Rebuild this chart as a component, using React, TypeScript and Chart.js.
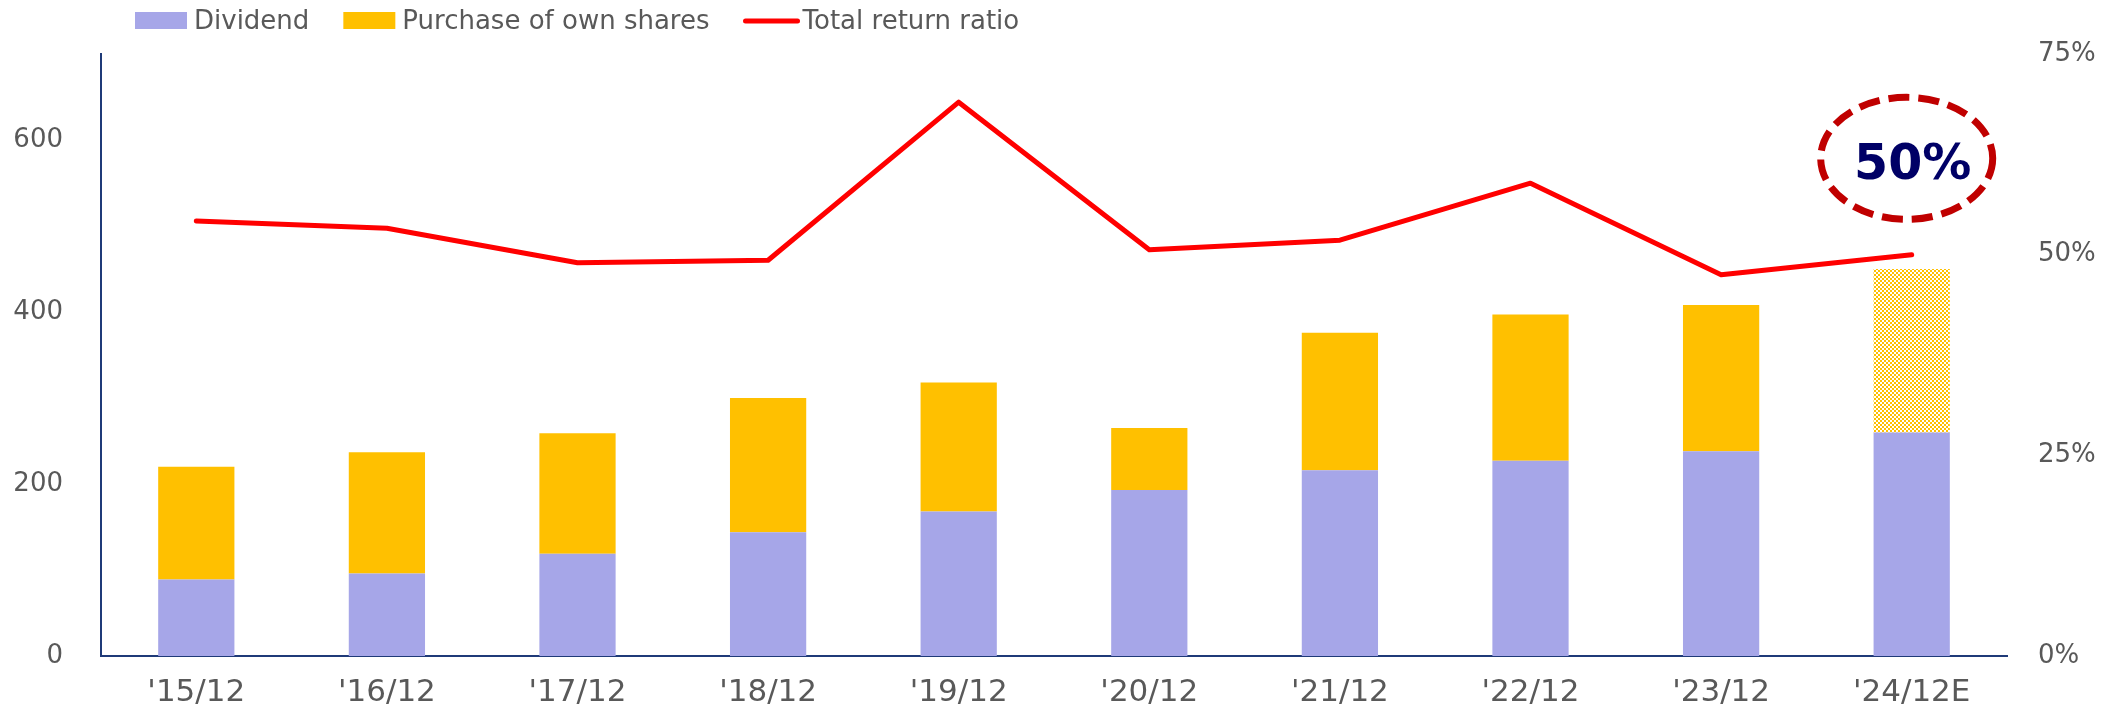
import React, { useEffect, useRef } from 'react';
import { Chart, registerables } from 'chart.js';

Chart.register(...registerables);

const categories = ["'15/12", "'16/12", "'17/12", "'18/12", "'19/12", "'20/12", "'21/12", "'22/12", "'23/12", "'24/12E"];
const dividend = [89, 96, 119, 144, 168, 193, 216, 227, 238, 260];
const buyback = [131, 141, 140, 156, 150, 72, 160, 170, 170, 190];
const returnRatio = [54.2, 53.3, 49.0, 49.3, 69.0, 50.6, 51.8, 58.9, 47.5, 50.0];
const highlightLabel = '50%';

const DIV_COLOR = '#A6A6E8';
const BUY_COLOR = '#FFC000';
const LINE_COLOR = '#FF0000';
const AXIS_COLOR = '#1F3A78';
const TEXT_COLOR = '#595959';
const FONT = '"DejaVu Sans", Verdana, sans-serif';

function makePattern(): CanvasPattern | string {
  const c = document.createElement('canvas');
  c.width = 4;
  c.height = 4;
  const g = c.getContext('2d');
  if (!g) return BUY_COLOR;
  g.fillStyle = '#FFFFFF';
  g.fillRect(0, 0, 4, 4);
  g.fillStyle = BUY_COLOR;
  g.fillRect(0, 0, 2, 2);
  g.fillRect(2, 2, 2, 2);
  const p = g.createPattern(c, 'repeat');
  return p || BUY_COLOR;
}

const legendPlugin = {
  id: 'customLegend',
  afterDraw(chart: any) {
    const ctx = chart.ctx;
    ctx.save();
    ctx.font = `26px ${FONT}`;
    ctx.textBaseline = 'middle';
    ctx.fillStyle = TEXT_COLOR;
    const y = 21;
    let x = 135;
    const items = [
      { type: 'box', color: DIV_COLOR, text: chart.data.datasets[1].label },
      { type: 'box', color: BUY_COLOR, text: chart.data.datasets[2].label },
      { type: 'line', color: LINE_COLOR, text: chart.data.datasets[0].label },
    ];
    items.forEach((it) => {
      if (it.type === 'box') {
        ctx.fillStyle = it.color;
        ctx.fillRect(x, 12, 52, 17);
      } else {
        ctx.strokeStyle = it.color;
        ctx.lineWidth = 5;
        ctx.lineCap = 'round';
        ctx.beginPath();
        ctx.moveTo(x + 2, y);
        ctx.lineTo(x + 54, y);
        ctx.stroke();
      }
      x += 52 + 7;
      ctx.fillStyle = TEXT_COLOR;
      ctx.fillText(it.text, x, y + 1);
      x += ctx.measureText(it.text).width + 34;
    });
    ctx.restore();
  },
};

const highlightPlugin = {
  id: 'highlight',
  afterDatasetsDraw(chart: any) {
    const ctx = chart.ctx;
    const xs = chart.scales.x;
    const ys = chart.scales.y1;
    const cx = xs.getPixelForValue(categories.length - 1) - 5;
    const cy = ys.getPixelForValue(62);
    ctx.save();
    ctx.strokeStyle = '#C00000';
    ctx.lineWidth = 7;
    ctx.setLineDash([21, 9]);
    ctx.beginPath();
    ctx.ellipse(cx, cy, 86, 61, 0, 0, Math.PI * 2);
    ctx.stroke();
    ctx.setLineDash([]);
    ctx.fillStyle = '#000066';
    ctx.font = `bold 49px ${FONT}`;
    ctx.textAlign = 'center';
    ctx.textBaseline = 'middle';
    ctx.fillText(highlightLabel, cx + 6, cy + 8);
    ctx.restore();
  },
};

export default function App() {
  const ref = useRef<HTMLCanvasElement | null>(null);

  useEffect(() => {
    document.body.style.margin = '0';
    if (!ref.current) return;
    const pattern = makePattern();
    const buyColors = buyback.map((_, i) => (i === buyback.length - 1 ? pattern : BUY_COLOR));
    const chart = new Chart(ref.current, {
      type: 'bar',
      data: {
        labels: categories,
        datasets: [
          {
            type: 'line',
            label: 'Total return ratio',
            data: returnRatio,
            yAxisID: 'y1',
            borderColor: LINE_COLOR,
            backgroundColor: LINE_COLOR,
            borderWidth: 5,
            pointRadius: 0,
            tension: 0,
            borderCapStyle: 'round',
            borderJoinStyle: 'round',
            order: 0,
          } as any,
          {
            type: 'bar',
            label: 'Dividend',
            data: dividend,
            yAxisID: 'y',
            backgroundColor: DIV_COLOR,
            categoryPercentage: 1,
            barPercentage: 0.4,
            order: 1,
          },
          {
            type: 'bar',
            label: 'Purchase of own shares',
            data: buyback,
            yAxisID: 'y',
            backgroundColor: buyColors as any,
            categoryPercentage: 1,
            barPercentage: 0.4,
            order: 1,
          },
        ],
      },
      options: {
        animation: false,
        responsive: true,
        maintainAspectRatio: false,
        layout: { padding: { top: 54, left: 0, right: 0, bottom: 0 } },
        plugins: {
          legend: { display: false },
          tooltip: { enabled: false },
        },
        scales: {
          x: {
            stacked: true,
            offset: true,
            grid: { display: false, drawTicks: false },
            border: { display: true, color: AXIS_COLOR, width: 2 },
            ticks: {
              color: TEXT_COLOR,
              font: { family: FONT, size: 31 },
              padding: 18,
              maxRotation: 0,
              autoSkip: false,
            },
            afterFit(scale: any) {
              scale.height = 56;
            },
          },
          y: {
            stacked: true,
            position: 'left',
            min: 0,
            max: 700,
            grid: { display: false, drawTicks: false },
            border: { display: true, color: AXIS_COLOR, width: 2 },
            ticks: {
              stepSize: 200,
              color: TEXT_COLOR,
              font: { family: FONT, size: 26 },
              padding: 38,
              callback: (v: any) => (Number(v) % 200 === 0 ? String(v) : ''),
            },
            afterFit(scale: any) {
              scale.width = 101;
            },
          },
          y1: {
            position: 'right',
            min: 0,
            max: 75,
            grid: { display: false, drawTicks: false },
            border: { display: false },
            ticks: {
              stepSize: 25,
              color: TEXT_COLOR,
              font: { family: FONT, size: 26 },
              padding: 31,
              callback: (v: any) => `${v}%`,
            },
            afterFit(scale: any) {
              scale.width = 109;
            },
          },
        },
      },
      plugins: [legendPlugin, highlightPlugin],
    });
    return () => chart.destroy();
  }, []);

  return (
    <div style={{ position: 'relative', width: '2116px', height: '712px' }}>
      <canvas ref={ref} />
    </div>
  );
}
